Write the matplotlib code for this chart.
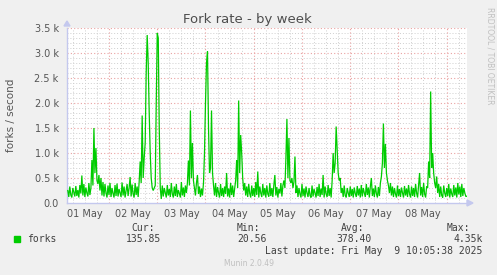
import matplotlib
matplotlib.use("Agg")
import matplotlib.pyplot as plt
import numpy as np

# ---------------- data ----------------
# forks per second, 30-minute samples starting May 1 03:30
forks = [
    250, 120, 330, 160, 110, 300, 210, 130, 340, 140, 260, 110,
    360, 190, 550, 150, 380, 120, 310, 200, 130, 400, 160, 300,
    860, 350, 1500, 600, 1100, 450, 380, 560, 250, 500, 150, 420,
    130, 380, 200, 110, 350, 160, 400, 120, 300, 190, 110, 360,
    140, 390, 130, 280, 200, 120, 410, 150, 330, 110, 250, 380,
    140, 300, 520, 130, 370, 180, 110, 400, 160, 330, 120, 420,
    830, 400, 1750, 500, 900, 1200, 2600, 3360, 2800, 1800, 1000, 500,
    300, 250, 300, 350, 2000, 3400, 3300, 1500, 300, 80, 350, 130,
    300, 200, 110, 360, 150, 280, 120, 400, 180, 110, 330, 140,
    380, 120, 260, 190, 110, 420, 150, 310, 120, 350, 200, 400,
    850, 350, 1850, 500, 1200, 450, 300, 150, 400, 560, 180, 330,
    120, 290, 150, 400, 1000, 2000, 2800, 3030, 1500, 600, 700, 1850,
    600, 350, 150, 400, 120, 320, 200, 110, 380, 140, 300, 120,
    330, 180, 600, 130, 290, 110, 400, 160, 350, 120, 280, 450,
    860, 300, 2050, 600, 1360, 1000, 500, 250, 400, 150, 330, 120,
    380, 190, 110, 350, 140, 300, 120, 420, 160, 630, 110, 330,
    200, 120, 380, 150, 300, 110, 350, 180, 130, 400, 140, 300,
    120, 360, 560, 150, 320, 110, 280, 190, 400, 130, 350, 450,
    300, 900, 1680, 500, 1300, 450, 400, 500, 300, 420, 930, 200,
    350, 120, 300, 180, 110, 380, 140, 290, 110, 330, 200, 120,
    300, 150, 110, 350, 130, 280, 200, 110, 320, 140, 380, 120,
    290, 160, 560, 110, 330, 180, 120, 360, 140, 300, 110, 450,
    1000, 600, 800, 1530, 1080, 600, 450, 500, 200, 300, 120, 350,
    150, 110, 300, 200, 120, 330, 140, 280, 110, 310, 190, 120,
    340, 150, 290, 110, 360, 130, 300, 200, 120, 380, 160, 310,
    110, 330, 500, 140, 290, 120, 350, 190, 110, 320, 140, 400,
    530, 800, 1590, 700, 1180, 600, 450, 350, 200, 400, 150, 330,
    120, 300, 180, 110, 350, 140, 280, 120, 310, 200, 110, 340,
    150, 290, 120, 360, 180, 110, 330, 140, 300, 120, 380, 200,
    110, 350, 600, 150, 320, 120, 400, 180, 110, 330, 300, 830,
    500, 2230, 700, 1000, 600, 400, 300, 530, 200, 380, 120, 330,
    150, 110, 350, 200, 120, 300, 140, 380, 110, 290, 180, 120,
    360, 150, 310, 110, 400, 170, 330, 120, 380, 140, 300, 200,
    130, 136,
]
start_hour = 3.5          # hours after May 1 00:00
sample_hours = 0.5
day_labels = ["01 May", "02 May", "03 May", "04 May",
              "05 May", "06 May", "07 May", "08 May"]
y_ticks = [0, 500, 1000, 1500, 2000, 2500, 3000, 3500]
legend_name = "forks"
stat_heads = ["Cur:", "Min:", "Avg:", "Max:"]
stat_vals = ["135.85", "20.56", "378.40", "4.35k"]
last_update = "Last update: Fri May  9 10:05:38 2025"

# ---------------- figure ----------------
W, H = 497, 275
BG = "#F0F0F0"
GREEN = "#00CC00"
fig = plt.figure(figsize=(W / 100, H / 100), dpi=100, facecolor=BG)

def fx(px):
    return px / W

def fy(py):
    return 1 - py / H

ax = fig.add_axes([fx(67), fy(203), 400 / W, 175 / H])
ax.set_facecolor("white")

t = (start_hour + sample_hours * np.arange(len(forks))) / 24.0
x0, x1 = 0.1295, 8.42
ax.set_xlim(x0, x1)
ax.set_ylim(0, 3500)

# grid
minor_c = "#cfcfcf"
major_c = "#eaa2a2"
dot = (0, (1, 2))
for v in range(100, 3600, 100):
    if v % 500:
        ax.axhline(v, color=minor_c, lw=0.7, ls=dot, zorder=1)
for q in np.arange(0.25, 8.5, 0.25):
    if q > x0 and q < x1 and abs(q - round(q)) > 1e-6:
        ax.axvline(q, color=minor_c, lw=0.7, ls=dot, zorder=1)
for v in y_ticks[1:]:
    ax.axhline(v, color=major_c, lw=0.8, ls=dot, zorder=2)
for d in range(1, 9):
    if x0 < d < x1:
        ax.axvline(d, color=major_c, lw=0.8, ls=dot, zorder=2)

ax.plot(t, forks, color=GREEN, lw=0.9, zorder=5, solid_joinstyle="miter")

for s in ["top", "right"]:
    ax.spines[s].set_visible(False)
for s in ["left", "bottom"]:
    ax.spines[s].set_color("#c4c8ee")
    ax.spines[s].set_linewidth(1.0)

ax.set_yticks(y_ticks)
ax.set_yticklabels(["0.0"] + [f"{v/1000:.1f} k" for v in y_ticks[1:]])
ax.set_xticks([i + 0.5 for i in range(len(day_labels))])
ax.set_xticklabels(day_labels)
ax.tick_params(axis="both", length=0, labelsize=7, colors="#555555")
ax.tick_params(axis="y", pad=6)
ax.tick_params(axis="x", pad=4)

# axis arrows
fig.patches.append(matplotlib.patches.Polygon(
    [[fx(64), fy(26)], [fx(70), fy(26)], [fx(67), fy(21)]],
    closed=True, transform=fig.transFigure, color="#c4c8ee", zorder=10))
fig.patches.append(matplotlib.patches.Polygon(
    [[fx(467), fy(200)], [fx(467), fy(206)], [fx(473), fy(203)]],
    closed=True, transform=fig.transFigure, color="#c4c8ee", zorder=10))

# texts
fig.text(fx(247), fy(20), "Fork rate - by week", ha="center", va="center",
         fontsize=9.5, color="#4d4d4d")
fig.text(fx(11), fy(115), "forks / second", rotation=90, ha="center",
         va="center", fontsize=7.5, color="#555555")
fig.text(fx(490), fy(56), "RRDTOOL / TOBI OETIKER", rotation=270,
         ha="center", va="center", fontsize=5.5, color="#c0c0c0")

mono = "DejaVu Sans Mono"
tc = "#404040"
fig.patches.append(matplotlib.patches.Rectangle(
    (fx(14), fy(241.5)), 5.5 / W, 5.5 / H, transform=fig.transFigure,
    color=GREEN))
fig.text(fx(27), fy(239), legend_name, family=mono, fontsize=7, color=tc,
         va="center", ha="left")
head_x = [143, 248, 353, 458]
val_x = [143, 252, 354, 468]
for hx, vx, h, v in zip(head_x, val_x, stat_heads, stat_vals):
    fig.text(fx(hx), fy(228), h, family=mono, fontsize=7, color=tc,
             va="center", ha="center")
    fig.text(fx(vx), fy(239), v, family=mono, fontsize=7, color=tc,
             va="center", ha="center")
fig.text(fx(482), fy(250.5), last_update, family=mono, fontsize=7, color=tc,
         va="center", ha="right")
fig.text(fx(249), fy(264), "Munin 2.0.49", fontsize=5.5, color="#c0c0c0",
         va="center", ha="center")

fig.savefig("out.png", dpi=100, facecolor=BG)
